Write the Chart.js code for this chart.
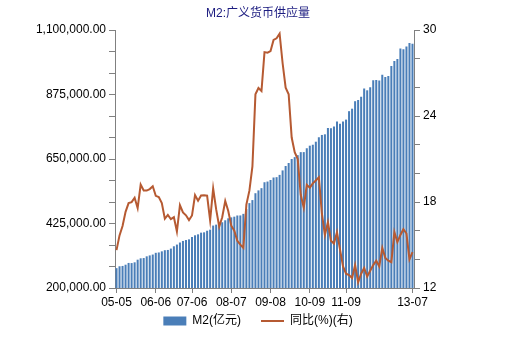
<!DOCTYPE html>
<html><head><meta charset="utf-8">
<script src="https://cdn.jsdelivr.net/npm/chart.js@4"></script>
<style>html,body{margin:0;padding:0;background:#fff}#wrap{width:516px;height:350px}</style>
</head><body><div id="wrap"><canvas id="c" width="516" height="350"></canvas></div>
<script>
const categories = [
  '05-05','05-06','05-07','05-08','05-09','05-10','05-11','05-12',
  '06-01','06-02','06-03','06-04','06-05','06-06','06-07','06-08','06-09','06-10','06-11','06-12',
  '07-01','07-02','07-03','07-04','07-05','07-06','07-07','07-08','07-09','07-10','07-11','07-12',
  '08-01','08-02','08-03','08-04','08-05','08-06','08-07','08-08','08-09','08-10','08-11','08-12',
  '09-01','09-02','09-03','09-04','09-05','09-06','09-07','09-08','09-09','09-10','09-11','09-12',
  '10-01','10-02','10-03','10-04','10-05','10-06','10-07','10-08','10-09','10-10','10-11','10-12',
  '11-01','11-02','11-03','11-04','11-05','11-06','11-07','11-08','11-09','11-10','11-11','11-12',
  '12-01','12-02','12-03','12-04','12-05','12-06','12-07','12-08','12-09','12-10','12-11','12-12',
  '13-01','13-02','13-03','13-04','13-05','13-06','13-07'
];
const m2Values = [
  269240, 275786, 276966, 281289, 287438, 286963, 289556, 298756,
  303572, 304516, 310491, 313702, 316710, 322756, 324011, 327885, 331865, 332747, 337504, 345578,
  351499, 358659, 364105, 367326, 369718, 377832, 383885, 387205, 393099, 394204, 399758, 403442,
  417846, 421038, 423055, 429314, 436222, 443141, 446362, 448847, 452899, 453133, 458645, 475167,
  496135, 506708, 530627, 540481, 548264, 568916, 571323, 576698, 585405, 586643, 594605, 610225,
  625609, 636072, 649948, 656561, 663351, 673922, 674052, 687507, 696472, 699777, 710339, 725852,
  733885, 736131, 758131, 757385, 763409, 780821, 772924, 780852, 787406, 816829, 825494, 851591,
  855899, 867171, 895566, 889604, 900049, 924991, 925375, 924239, 943689, 936404, 939951, 974149,
  992129, 998601, 1035858, 1032552, 1042169, 1054404, 1052212
];
const yoyValues = [
  14.64, 15.67, 16.32, 17.31, 17.92, 17.99, 18.30, 17.57,
  19.21, 18.80, 18.80, 18.90, 19.10, 18.43, 18.35, 17.93, 16.83, 17.10, 16.80, 16.94,
  15.94, 17.78, 17.27, 17.07, 16.74, 17.06, 18.48, 18.09, 18.45, 18.47, 18.45, 16.72,
  18.94, 17.48, 16.29, 16.94, 18.07, 17.37, 16.35, 16.00, 15.29, 15.02, 14.80, 17.82,
  18.79, 20.48, 25.51, 25.95, 25.74, 28.46, 28.42, 28.53, 29.31, 29.42, 29.74, 27.68,
  25.98, 25.52, 22.50, 21.48, 21.00, 18.50, 17.60, 19.20, 19.00, 19.30, 19.50, 19.72,
  17.20, 15.70, 16.60, 15.30, 15.10, 15.90, 14.70, 13.50, 13.00, 12.90, 12.70, 13.60,
  12.40, 13.00, 13.40, 12.80, 13.20, 13.60, 13.90, 13.50, 14.80, 14.10, 13.90, 13.80,
  15.90, 15.20, 15.70, 16.10, 15.80, 14.00, 14.50
];
const shownTickLabels = ['05-05','06-06','07-06','08-07','09-08','10-09','11-09','13-07'];
const leftAxisLabels = [200000, 425000, 650000, 875000, 1100000];
const rightAxisLabels = [12, 15, 18, 21, 24, 27, 30];

const AXIS_GRAY = '#808080';
Chart.defaults.font.family = "'Liberation Sans','Noto Sans CJK SC',sans-serif";
Chart.defaults.font.size = 12;
Chart.defaults.color = '#000';

const fmt = v => Number(v).toLocaleString('en-US', {minimumFractionDigits: 2, maximumFractionDigits: 2});

// move the legend row up so it sits just below the axis labels
const legendShift = {
  id: 'legendShift',
  afterLayout(chart) {
    if (chart.legend) { chart.legend.top -= 13; chart.legend.bottom -= 13; }
  }
};

new Chart(document.getElementById('c'), {
  data: {
    labels: categories,
    datasets: [
      {
        type: 'bar', label: 'M2(亿元)', data: m2Values, yAxisID: 'y',
        backgroundColor: '#4a7eb8', borderWidth: 0,
        barPercentage: 0.67, categoryPercentage: 1.0,
        pointStyle: 'rect', order: 2
      },
      {
        type: 'line', label: '同比(%)(右)', data: yoyValues, yAxisID: 'y1',
        borderColor: '#b65a32', backgroundColor: '#b65a32', borderWidth: 2,
        pointRadius: 0, tension: 0, pointStyle: 'line', order: 1
      }
    ]
  },
  plugins: [legendShift],
  options: {
    responsive: false,
    animation: false,
    layout: {padding: {left: 0, right: 0, top: 0, bottom: 0}},
    plugins: {
      title: {
        display: true, text: 'M2:广义货币供应量', color: '#1c1c80',
        font: {size: 12, weight: 'normal'}, padding: {top: 6, bottom: 9.6}
      },
      legend: {
        position: 'bottom',
        labels: {
          usePointStyle: true, pointStyleWidth: 23, boxHeight: 9, padding: 20,
          color: '#000', font: {size: 12},
          sort: (a, b) => a.datasetIndex - b.datasetIndex
        }
      },
      tooltip: {enabled: false}
    },
    scales: {
      x: {
        type: 'category', offset: true,
        grid: {
          display: true, drawOnChartArea: false, offset: false, tickLength: 5,
          color: AXIS_GRAY,
          tickColor: ctx => shownTickLabels.includes(categories[ctx.index]) ? AXIS_GRAY : 'rgba(0,0,0,0)'
        },
        border: {display: true, color: AXIS_GRAY},
        ticks: {
          autoSkip: false, maxRotation: 0, minRotation: 0, padding: 2,
          callback: (v, i) => shownTickLabels.includes(categories[i]) ? categories[i] : ''
        },
        afterFit: s => { s.height = 20; }
      },
      y: {
        position: 'left', min: 200000, max: 1100000,
        grid: {drawOnChartArea: false, tickLength: 6, color: AXIS_GRAY},
        border: {display: true, color: AXIS_GRAY},
        ticks: {
          stepSize: 75000, padding: 3,
          callback: v => leftAxisLabels.includes(v) ? fmt(v) : ''
        },
        afterFit: s => { s.width = 115; }
      },
      y1: {
        position: 'right', min: 12, max: 30,
        grid: {drawOnChartArea: false, tickLength: 6, color: AXIS_GRAY},
        border: {display: true, color: AXIS_GRAY},
        ticks: {
          stepSize: 1, padding: 3,
          callback: v => rightAxisLabels.includes(v) ? String(v) : ''
        },
        afterFit: s => { s.width = 102; }
      }
    }
  }
});
</script>
</body></html>
